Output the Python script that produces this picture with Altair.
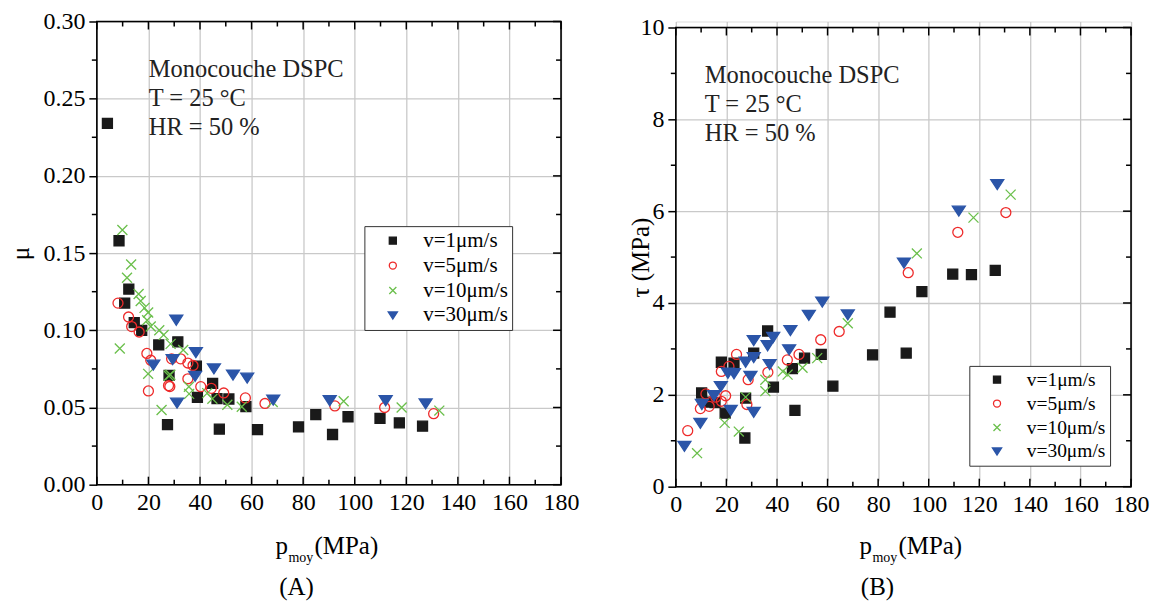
import altair as alt
import pandas as pd

FONT = "Liberation Serif"
SERIES = ["v=1μm/s", "v=5μm/s", "v=10μm/s", "v=30μm/s"]
STROKES = ["#1a1a1a", "#ee2b2b", "#6abf4b", "#2b55a8"]
FILLS = ["#1a1a1a", "transparent", "transparent", "#2b55a8"]
SHAPES = ["M-1,-1L1,-1L1,1L-1,1Z", "circle", "M-1,-1L1,1M-1,1L1,-1", "M-1.3,-1L1.3,-1L0,1Z"]

ANNOT = ["Monocouche DSPC", "T = 25 °C", "HR = 50 %"]

# ---------- Panel A : friction coefficient mu vs mean pressure ----------
a_p1 = [4.1, 8.6, 10.8, 12.4, 14.5, 17.4, 24.0, 31.4, 27.4, 28.0, 38.6, 39.0, 44.9, 46.6, 47.5,
        51.2, 57.8, 62.3, 78.2, 84.9, 91.4, 97.4, 109.8, 117.3, 126.3]
a_m1 = [0.234, 0.158, 0.1176, 0.1267, 0.105, 0.100, 0.0905, 0.0925, 0.0389, 0.0708, 0.0768, 0.0566,
        0.0656, 0.0557, 0.036, 0.0555, 0.0505, 0.0357, 0.0374, 0.0454, 0.0325, 0.044, 0.043, 0.040, 0.0379]

a_p5 = [8.2, 12.3, 13.5, 16.4, 19.4, 20.9, 20.0, 27.8, 28.3, 29.0, 32.5, 35.3, 37.3, 35.3, 40.3,
        44.4, 49.2, 57.6, 65.2, 92.3, 111.6, 130.6]
a_m5 = [0.1176, 0.1086, 0.1024, 0.0989, 0.085, 0.0806, 0.0607, 0.0642, 0.0636, 0.0815, 0.0815, 0.0788,
        0.0772, 0.0686, 0.0635, 0.0624, 0.0594, 0.0562, 0.0526, 0.051, 0.050, 0.046]

a_p10 = [9.9, 8.9, 13.3, 11.7, 16.2, 17.0, 18.5, 19.9, 19.5, 20.9, 24.2, 25.9, 28.6, 33.5, 19.9,
         25.1, 27.9, 28.5, 35.7, 35.8, 42.8, 44.8, 50.6, 56.2, 68.2, 95.7, 118.2, 132.8]
a_m10 = [0.165, 0.0882, 0.1426, 0.134, 0.1235, 0.119, 0.1145, 0.1115, 0.1065, 0.1025, 0.100, 0.097,
         0.0912, 0.0872, 0.0718, 0.0484, 0.0706, 0.0712, 0.0634, 0.0588, 0.0593, 0.0556, 0.0518,
         0.0505, 0.0536, 0.054, 0.050, 0.048]

a_p30 = [21.9, 29.4, 30.8, 31.1, 38.4, 38.1, 45.4, 52.8, 58.3, 68.4, 90.3, 112.0, 127.5]
a_m30 = [0.0774, 0.081, 0.1065, 0.0528, 0.0855, 0.0702, 0.075, 0.071, 0.069, 0.0548, 0.0544,
         0.0544, 0.0523]

# ---------- Panel B : shear stress tau vs mean pressure ----------
b_p1 = [77.8, 84.7, 91.1, 97.3, 109.5, 116.9, 126.3, 36.3, 57.5, 50.9, 46.1, 38.6, 62.1, 47.1,
        18.0, 23.0, 30.8, 10.2, 13.2, 15.5, 19.5, 27.3, 27.6]
b_t1 = [2.87, 3.80, 2.91, 4.25, 4.63, 4.62, 4.71, 3.39, 2.88, 2.80, 2.57, 2.17, 2.19, 1.66,
        2.71, 2.69, 2.91, 2.04, 1.84, 1.83, 1.60, 1.06, 1.93]

b_p5 = [4.7, 9.7, 13.2, 11.9, 15.8, 18.0, 19.7, 18.0, 21.0, 24.0, 28.6, 28.1, 36.4, 44.1, 48.7,
        57.3, 64.6, 91.9, 111.5, 130.5]
b_t5 = [1.22, 1.70, 1.75, 2.02, 1.95, 1.86, 1.98, 2.51, 2.62, 2.88, 2.33, 1.79, 2.49, 2.76, 2.88,
        3.20, 3.38, 4.66, 5.54, 5.97]

b_p10 = [8.4, 19.3, 24.9, 27.6, 35.4, 35.4, 42.3, 44.2, 50.1, 55.9, 68.0, 95.3, 117.7, 132.4]
b_t10 = [0.73, 1.39, 1.20, 1.95, 2.33, 2.08, 2.51, 2.44, 2.59, 2.80, 3.56, 5.08, 5.86, 6.36]

b_p30 = [3.4, 9.7, 10.3, 15.1, 17.8, 20.6, 23.0, 27.6, 30.8, 30.8, 29.5, 21.7, 30.8, 36.3, 37.1,
         38.5, 45.3, 44.8, 52.6, 57.9, 68.0, 90.2, 111.9, 127.1]
b_t30 = [0.88, 1.38, 1.79, 1.98, 2.18, 2.47, 2.46, 2.71, 2.81, 3.18, 2.40, 1.66, 1.62, 3.07, 2.66,
         3.25, 3.40, 2.98, 3.73, 4.02, 3.74, 4.87, 6.00, 6.58]

# ---------- axes ----------
X_MAJOR = [0, 20, 40, 60, 80, 100, 120, 140, 160, 180]
X_MINOR = [10, 30, 50, 70, 90, 110, 130, 150, 170]
A_Y_MAJOR = [0.0, 0.05, 0.10, 0.15, 0.20, 0.25, 0.30]
A_Y_MINOR = [0.025, 0.075, 0.125, 0.175, 0.225, 0.275]
B_Y_MAJOR = [0, 2, 4, 6, 8, 10]
B_Y_MINOR = [1, 3, 5, 7, 9]


def table(groups):
    rows = []
    for name, xs, ys in groups:
        for x, y in zip(xs, ys):
            rows.append({"p": x, "y": y, "series": name})
    return pd.DataFrame(rows)


def panel(df, W, H, top, ydom, ymaj, ymin, yfmt, ytitle, ytitle_pad, legxy, leg_font,
          annot_xy, title_x, title_dy, tag_x, tag_dy, tag):
    sx = alt.Scale(domain=[0, 180], nice=False, zero=False)
    sy = alt.Scale(domain=ydom, nice=False, zero=False, range=[H, top])
    ax_x = alt.Axis(values=X_MAJOR, ticks=False, domain=False, grid=True, gridColor="#c9c9c9",
                    gridWidth=1.3, labelFont=FONT, labelFontSize=24, labelColor="black",
                    labelPadding=6, title=None, labelFlush=False)
    ax_y = alt.Axis(values=ymaj, format=yfmt, ticks=True, tickSize=8, tickColor="black",
                    tickWidth=1.5, domain=False, grid=True, gridColor="#c9c9c9", gridWidth=1.3,
                    labelFont=FONT, labelFontSize=24, labelColor="black", labelPadding=4,
                    title=ytitle, titleFont=FONT, titleFontSize=25, titleFontWeight="normal",
                    titleColor="black", titlePadding=ytitle_pad, labelFlush=False)

    leg = alt.Legend(orient="none", legendX=legxy[0], legendY=legxy[1], title=None,
                     strokeColor="#333333", fillColor="white", padding=4, symbolOffset=14,
                     labelOffset=20, labelFont=FONT, labelFontSize=leg_font, labelColor="black",
                     rowPadding=3, symbolSize=50, symbolStrokeWidth=1.3, labelLimit=200)

    pts = alt.Chart(df).mark_point(size=100, strokeWidth=1.3, opacity=1).encode(
        x=alt.X("p:Q", scale=sx, axis=ax_x),
        y=alt.Y("y:Q", scale=sy, axis=ax_y),
        shape=alt.Shape("series:N", scale=alt.Scale(domain=SERIES, range=SHAPES), legend=leg),
        stroke=alt.Stroke("series:N", scale=alt.Scale(domain=SERIES, range=STROKES), legend=leg),
        fill=alt.Fill("series:N", scale=alt.Scale(domain=SERIES, range=FILLS), legend=leg),
    )

    one = pd.DataFrame({"a": [0]})
    xmaj = pd.DataFrame({"v": X_MAJOR})
    xmin = pd.DataFrame({"v": X_MINOR})
    ymj = pd.DataFrame({"v": ymaj})
    ymn = pd.DataFrame({"v": ymin})

    def xr(d, y0, y1):
        return alt.Chart(d).mark_rule(color="black", strokeWidth=1.5).encode(
            x=alt.X("v:Q", scale=sx, axis=ax_x), y=alt.value(y0), y2=alt.value(y1))

    def yr(d, x0, x1):
        return alt.Chart(d).mark_rule(color="black", strokeWidth=1.5).encode(
            y=alt.Y("v:Q", scale=sy, axis=ax_y), x=alt.value(x0), x2=alt.value(x1))

    ticks = [
        xr(xmaj, top, top + 8), xr(xmin, top, top + 5), xr(xmaj, H, H - 8), xr(xmin, H, H - 5),
        yr(ymj, W, W - 8), yr(ymn, W, W - 5), yr(ymn, 0, -5),
    ]

    frame = alt.Chart(one).mark_rect(filled=False, stroke="black", strokeWidth=1.6).encode(
        x=alt.value(0), x2=alt.value(W), y=alt.value(top), y2=alt.value(H))

    annots = [
        alt.Chart(one).mark_text(text=t, align="left", baseline="alphabetic", font=FONT,
                                 fontSize=24.5, color="#222").encode(
            x=alt.value(annot_xy[0]), y=alt.value(annot_xy[1] + 29 * i))
        for i, t in enumerate(ANNOT)
    ]

    def txt(t, x, y, size, align="left"):
        return alt.Chart(one).mark_text(text=t, align=align, baseline="alphabetic", font=FONT,
                                        fontSize=size, color="black").encode(
            x=alt.value(x), y=alt.value(y))

    titles = [
        txt("p", title_x, H + title_dy, 25),
        txt("moy", title_x + 13, H + title_dy + 8, 14),
        txt("(MPa)", title_x + 39, H + title_dy, 25),
        txt("(" + tag + ")", tag_x, H + tag_dy, 25, align="center"),
    ]

    return alt.layer(pts, *ticks, frame, *annots, *titles).properties(width=W, height=H)


dfa = table([(SERIES[0], a_p1, a_m1), (SERIES[1], a_p5, a_m5),
             (SERIES[2], a_p10, a_m10), (SERIES[3], a_p30, a_m30)])
dfb = table([(SERIES[0], b_p1, b_t1), (SERIES[1], b_p5, b_t5),
             (SERIES[2], b_p10, b_t10), (SERIES[3], b_p30, b_t30)])

left = panel(dfa, 465, 464, 0, [0, 0.30], A_Y_MAJOR, A_Y_MINOR, ".2f", "μ", 9, (268, 205), 21,
             (52, 56), 179, 69, 200, 111, "A")
right = panel(dfb, 456, 466, 6, [0, 10], B_Y_MAJOR, B_Y_MINOR, "d", "τ (MPa)", -14, (294, 345), 19.5,
              (29, 62), 184, 67, 202, 109, "B")

chart = alt.hconcat(left, right, spacing=48).resolve_scale(
    shape="independent", stroke="independent", fill="independent"
).configure_view(stroke=None).configure(background="white", padding=0)

chart.save("out.html", embed_options={"renderer": "svg", "actions": False})
